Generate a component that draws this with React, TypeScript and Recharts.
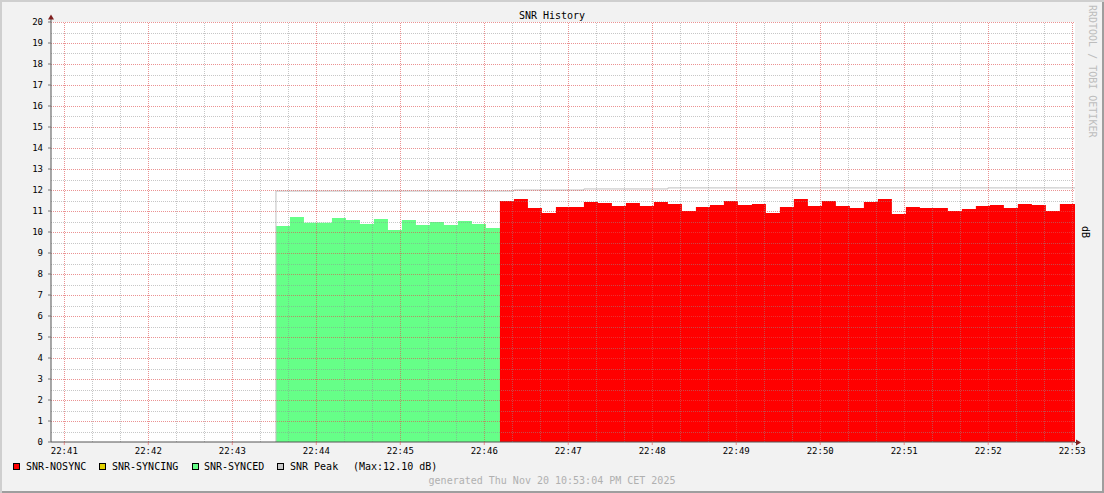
import { ComposedChart, Area, Line, XAxis, YAxis, CartesianGrid, ReferenceLine } from 'recharts';

// time in seconds after 22:41:00
const VIEW_START = -9.5;
const VIEW_END = 722;
const FIRST_STEP = 151.2;
const STEP = 10;

const SYNCED = [
  10.29, 10.71, 10.44, 10.44, 10.67, 10.57, 10.38, 10.62,
  10.1, 10.57, 10.33, 10.48, 10.33, 10.52, 10.38, 10.19,
];

const NOSYNC = [
  11.48, 11.57, 11.14, 10.9, 11.19, 11.19, 11.43, 11.38, 11.24, 11.38,
  11.24, 11.43, 11.33, 11.0, 11.19, 11.29, 11.48, 11.29, 11.33, 10.9,
  11.19, 11.57, 11.24, 11.48, 11.24, 11.14, 11.43, 11.57, 10.86, 11.19,
  11.14, 11.14, 11.0, 11.1, 11.24, 11.29, 11.14, 11.33, 11.29, 11.0, 11.33,
];

// peak level and the step index where it starts
const PEAK_FROM = [0, 17, 22, 28];
const PEAK = [11.95, 12.0, 12.05, 12.1];

const X_TICKS = [0, 60, 120, 180, 240, 300, 360, 420, 480, 540, 600, 660, 720];
const X_LABELS = ['22:41', '22:42', '22:43', '22:44', '22:45', '22:46', '22:47', '22:48', '22:49', '22:50', '22:51', '22:52', '22:53'];
const Y_TICKS = [0, 1, 2, 3, 4, 5, 6, 7, 8, 9, 10, 11, 12, 13, 14, 15, 16, 17, 18, 19, 20];

const peakAt = (k: number) => {
  let p = PEAK[0];
  PEAK_FROM.forEach((f, i) => {
    if (k >= f) p = PEAK[i];
  });
  return p;
};

type Row = { t: number; synced: number | null; nosync: number | null; peak: number | null };

const rows: Row[] = [{ t: FIRST_STEP - 0.5, synced: null, nosync: null, peak: 0 }];
const allSteps = [...SYNCED.map((v) => ({ s: v, n: null })), ...NOSYNC.map((v) => ({ s: null, n: v }))];
allSteps.forEach((st, k) => {
  rows.push({
    t: FIRST_STEP + k * STEP,
    synced: k === SYNCED.length ? SYNCED[SYNCED.length - 1] : st.s,
    nosync: st.n,
    peak: peakAt(k),
  });
});
rows.push({ t: VIEW_END, synced: null, nosync: NOSYNC[NOSYNC.length - 1], peak: PEAK[PEAK.length - 1] });

const MGRID = 'rgba(222,79,79,0.62)';
const GRID = 'rgba(143,143,143,0.5)';
const FONT = 'DejaVu Sans Mono, monospace';

const minorX: number[] = [];
for (let t = 20; t < VIEW_END; t += 20) if (t % 60 !== 0) minorX.push(t);
const minorY: number[] = [];
for (let v = 0.5; v < 20; v += 1) minorY.push(v);

// snap grid lines to the pixel grid so the dots stay sharp
const crispLine = (color: string) => (p: any) => {
  const horizontal = Math.abs(p.y1 - p.y2) < 0.01;
  const x1 = Math.round(p.x1) + (horizontal ? 0 : 0.5);
  const x2 = Math.round(p.x2) + (horizontal ? 0 : 0.5);
  const y1 = Math.round(p.y1) + (horizontal ? 0.5 : 0);
  const y2 = Math.round(p.y2) + (horizontal ? 0.5 : 0);
  return <line x1={x1} y1={y1} x2={x2} y2={y2} stroke={color} strokeWidth={1} strokeDasharray="1 1" />;
};

const legend = [
  { name: 'SNR-NOSYNC', color: '#ff0000', box: 13, text: 26 },
  { name: 'SNR-SYNCING', color: '#e0d000', box: 99, text: 112 },
  { name: 'SNR-SYNCED', color: '#66ff88', box: 192, text: 204 },
  { name: 'SNR Peak', color: '#c8c8c8', box: 277, text: 290 },
];

export default function App() {
  return (
    <div
      style={{
        position: 'absolute',
        left: 0,
        top: 0,
        width: 1104,
        height: 493,
        background: '#f2f2f2',
        boxShadow: 'inset 2px 2px 0 #cfcfcf, inset -2px -2px 0 #9e9e9e',
        fontFamily: FONT,
      }}
    >
      <ComposedChart
        width={1104}
        height={493}
        data={rows}
        margin={{ top: 22, right: 29, left: 0, bottom: 0 }}
      >
        <CartesianGrid horizontal={false} vertical={false} fill="#ffffff" />
        <XAxis
          dataKey="t"
          type="number"
          domain={[VIEW_START, VIEW_END]}
          ticks={X_TICKS}
          interval={0}
          height={51}
          tickFormatter={(v: number) => X_LABELS[X_TICKS.indexOf(v)] ?? ''}
          tick={{ fontSize: 9, fill: '#000', fontFamily: FONT }}
          tickSize={3}
          tickMargin={3}
          axisLine={{ stroke: '#555' }}
          tickLine={{ stroke: MGRID }}
          allowDataOverflow
        />
        <YAxis
          type="number"
          domain={[0, 20]}
          ticks={Y_TICKS}
          interval={0}
          width={51}
          tick={{ fontSize: 9, fill: '#000', fontFamily: FONT }}
          tickSize={3}
          tickMargin={5}
          axisLine={{ stroke: '#555' }}
          tickLine={{ stroke: '#777' }}
          allowDataOverflow
        />
        <Area
          type="stepAfter"
          dataKey="synced"
          fill="#66ff88"
          fillOpacity={1}
          stroke="none"
          dot={false}
          activeDot={false}
          isAnimationActive={false}
        />
        <Area
          type="stepAfter"
          dataKey="nosync"
          fill="#ff0000"
          fillOpacity={1}
          stroke="none"
          dot={false}
          activeDot={false}
          isAnimationActive={false}
        />
        <Line
          type="stepAfter"
          dataKey="peak"
          stroke="#c0c0c0"
          strokeWidth={1}
          dot={false}
          activeDot={false}
          isAnimationActive={false}
        />
        {minorY.map((v) => (
          <ReferenceLine key={'my' + v} y={v} shape={crispLine(GRID)} />
        ))}
        {minorX.map((t) => (
          <ReferenceLine key={'mx' + t} x={t} shape={crispLine(GRID)} />
        ))}
        {Y_TICKS.filter((v) => v > 0).map((v) => (
          <ReferenceLine key={'My' + v} y={v} shape={crispLine(MGRID)} />
        ))}
        {X_TICKS.map((t) => (
          <ReferenceLine key={'Mx' + t} x={t} shape={crispLine(MGRID)} />
        ))}
      </ComposedChart>

      <svg style={{ position: 'absolute', left: 0, top: 0, pointerEvents: 'none' }} width={1104} height={493}>
        <line x1={51} y1={22} x2={51} y2={18} stroke="#555" />
        <line x1={1075} y1={442.5} x2={1078} y2={442.5} stroke="#555" />
        <polygon points="48,19.5 54,19.5 51,14.5" fill="#7f1f1f" />
        <polygon points="1076,439.5 1076,445.5 1081,442.5" fill="#7f1f1f" />
      </svg>

      <div style={{ position: 'absolute', left: 0, width: 1104, top: 10, textAlign: 'center', fontSize: 10, lineHeight: '12px', color: '#000' }}>
        SNR History
      </div>
      <div
        style={{
          position: 'absolute',
          left: 1086,
          top: 5,
          writingMode: 'vertical-rl',
          fontSize: 10,
          lineHeight: '12px',
          color: '#bdbdbd',
          whiteSpace: 'pre',
        }}
      >
        RRDTOOL / TOBI OETIKER
      </div>
      <div
        style={{
          position: 'absolute',
          left: 1079,
          top: 226,
          writingMode: 'vertical-rl',
          fontSize: 10,
          lineHeight: '12px',
          color: '#000',
        }}
      >
        dB
      </div>

      {legend.map((l) => (
        <div key={l.name}>
          <div
            style={{
              position: 'absolute',
              left: l.box,
              top: 463,
              width: 7,
              height: 7,
              boxSizing: 'border-box',
              border: '1px solid #000',
              background: l.color,
            }}
          />
          <div style={{ position: 'absolute', left: l.text, top: 461, fontSize: 10, lineHeight: '12px', color: '#000', whiteSpace: 'pre' }}>
            {l.name}
          </div>
        </div>
      ))}
      <div style={{ position: 'absolute', left: 353, top: 461, fontSize: 10, lineHeight: '12px', color: '#000', whiteSpace: 'pre' }}>
        (Max:12.10 dB)
      </div>

      <div style={{ position: 'absolute', left: 0, width: 1104, top: 475, textAlign: 'center', fontSize: 10, lineHeight: '12px', color: '#b0b0b0', whiteSpace: 'pre' }}>
        generated Thu Nov 20 10:53:04 PM CET 2025
      </div>
    </div>
  );
}
